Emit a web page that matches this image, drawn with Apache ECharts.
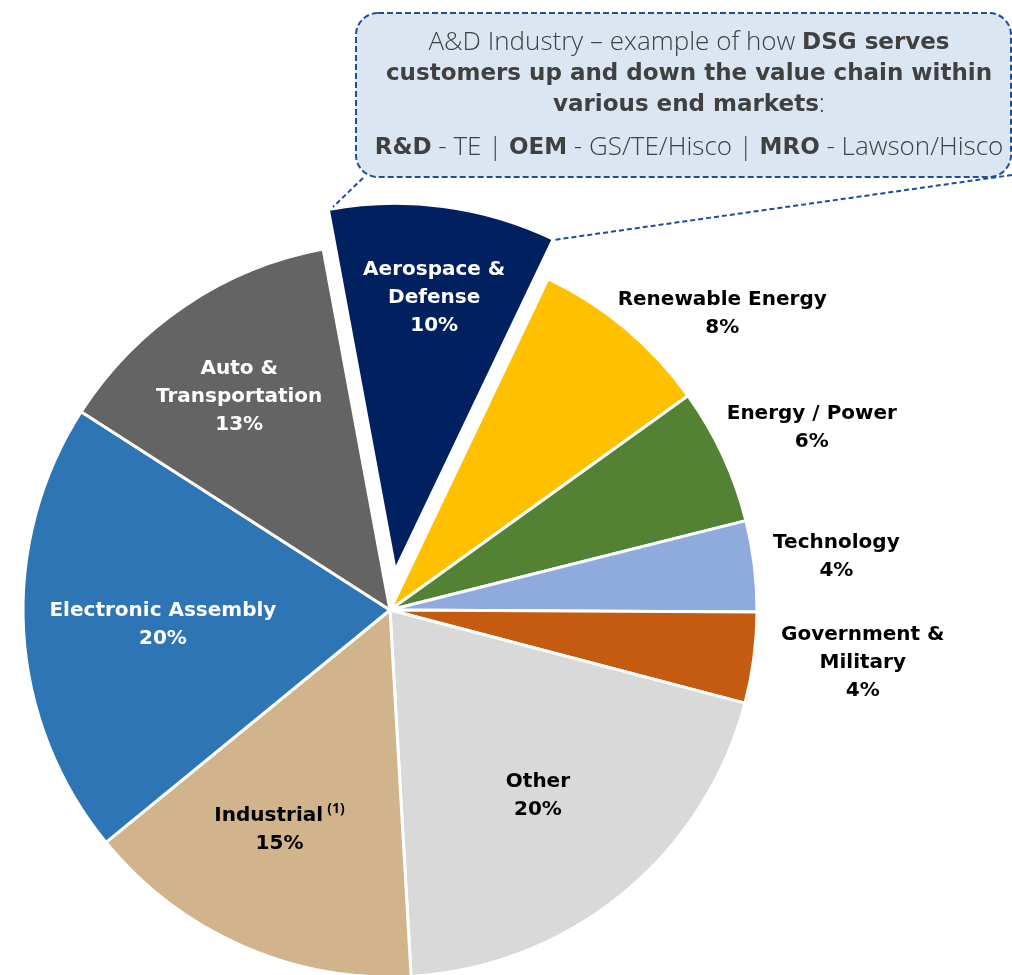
<!DOCTYPE html>
<html><head><meta charset="utf-8">
<script src="https://cdn.jsdelivr.net/npm/echarts@6/dist/echarts.min.js"></script>
<style>html,body{margin:0;padding:0;background:#fff}#c{width:1012px;height:975px}</style>
</head><body><div id="c"></div>
<script>
const categories = ['Aerospace & Defense','Renewable Energy','Energy / Power','Technology','Government & Military','Other','Industrial','Electronic Assembly','Auto & Transportation'];
const shares = [10, 8, 6, 4, 4, 20, 15, 20, 13];
const labelLines = [['Aerospace &','Defense'],['Renewable Energy'],['Energy / Power'],['Technology'],['Government &','Military'],['Other'],['Industrial'],['Electronic Assembly'],['Auto &','Transportation']];
const footnotes = ['', '', '', '', '', '', '(1)', '', ''];
const calloutLines = [
  [['n','A&D Industry – example of how '],['b','DSG serves']],
  [['b','customers up and down the value chain within']],
  [['b','various end markets'],['n',':']],
  [['b','R&D'],['n',' - TE | '],['b','OEM'],['n',' - GS/TE/Hisco | '],['b','MRO'],['n',' - Lawson/Hisco']]
];

const colors = ['#002060','#FFC000','#548235','#8FAADC','#C55A11','#D9D9D9','#D2B48C','#2E75B6','#646464'];
const outsideLabel = [false,true,true,true,true,false,false,false,false];
const whiteText = [true,false,false,false,false,false,false,true,true];
const R = 367, C = [390, 610], START = 100.5, OFFSET = 40;
const FONT = '"DejaVu Sans", "Noto Sans", sans-serif';

function labelText(i){
  const l = labelLines[i].map(s => '{b|' + s + '}');
  if (footnotes[i]) l[l.length-1] += '{sup|' + footnotes[i] + '}';
  l.push('{b|' + shares[i] + '%}');
  return l.join('\n');
}
function richFor(col){
  return {
    b: {fontFamily: FONT, fontWeight: 'bold', fontSize: 20, lineHeight: 28, color: col},
    sup: {fontFamily: '"Noto Sans", sans-serif', fontWeight: 'bold', fontSize: 14, lineHeight: 10, color: col, verticalAlign: 'top', padding: [0,0,0,4]}
  };
}
const nudge = {0:[6,-22], 1:[36,58], 2:[3,12], 3:[-12,2], 4:[15,-7], 5:[-12,-10], 6:[-9,-11], 7:[25,0], 8:[-10,-4]};

const pieData = categories.map((n,i)=>({name:n, value:shares[i], selected:i===0,
  itemStyle:{color:colors[i]}, select:{itemStyle:{color:colors[i]}}}));

function labelSeriesData(outside){
  return categories.map((n,i)=>({name:n, value:shares[i], selected:i===0,
    itemStyle:{color:'transparent', borderWidth:0},
    select:{itemStyle:{color:'transparent', borderWidth:0}},
    label:{show: outsideLabel[i]===outside, formatter: labelText(i), rich: richFor(whiteText[i]?'#ffffff':'#000000')}}));
}
const common = {type:'pie', center:C, startAngle:START, clockwise:true, selectedMode:'single',
  selectedOffset:OFFSET, animation:false, avoidLabelOverlap:false, labelLine:{show:false},
  emphasis:{disabled:true}};

const graphicEls = [
  {type:'line', shape:{x1:363,y1:178,x2:333,y2:207}, style:{stroke:'#1F4E99', lineWidth:2, lineDash:[5,3]}, z:10},
  {type:'line', shape:{x1:1012,y1:175,x2:553,y2:240}, style:{stroke:'#1F4E99', lineWidth:2, lineDash:[5,3]}, z:10},
  {type:'rect', shape:{x:356, y:13, width:655, height:164, r:22}, style:{fill:'#DCE6F2', stroke:'#1F4E99', lineWidth:2, lineDash:[6,3]}, z:11}
];
const lineY = [43, 74, 105, 148];
calloutLines.forEach((parts, k)=>{
  graphicEls.push({type:'text', x:689, y:lineY[k], z:12, style:{
    text: parts.map(p=>'{'+p[0]+'|'+p[1]+'}').join(''),
    align:'center', verticalAlign:'middle',
    rich:{
      n:{fontFamily:'"Open Sans", sans-serif', fontWeight:300, fontSize:26, fill:'#404040', lineHeight:30},
      b:{fontFamily:FONT, fontWeight:'bold', fontSize:23, fill:'#404040', lineHeight:30}
    }}});
});

const chart = echarts.init(document.getElementById('c'), null, {renderer:'canvas'});
chart.setOption({
  animation:false,
  series:[
    Object.assign({}, common, {radius:[0,R], silent:true, label:{show:false},
      itemStyle:{borderColor:'#ffffff', borderWidth:3}, data: pieData, z:2}),
    Object.assign({}, common, {radius:[132,R], silent:true, z:3,
      label:{show:true, position:'inside'}, labelLayout:function(p){const d=nudge[p.dataIndex]||[0,0]; return {dx:d[0], dy:d[1]};},
      data: labelSeriesData(false)}),
    Object.assign({}, common, {radius:[R, R*1.5], silent:true, z:3,
      label:{show:true, position:'inside'}, labelLayout:function(p){const d=nudge[p.dataIndex]||[0,0]; return {dx:d[0], dy:d[1]};},
      data: labelSeriesData(true)})
  ],
  graphic: graphicEls
});
</script></body></html>
